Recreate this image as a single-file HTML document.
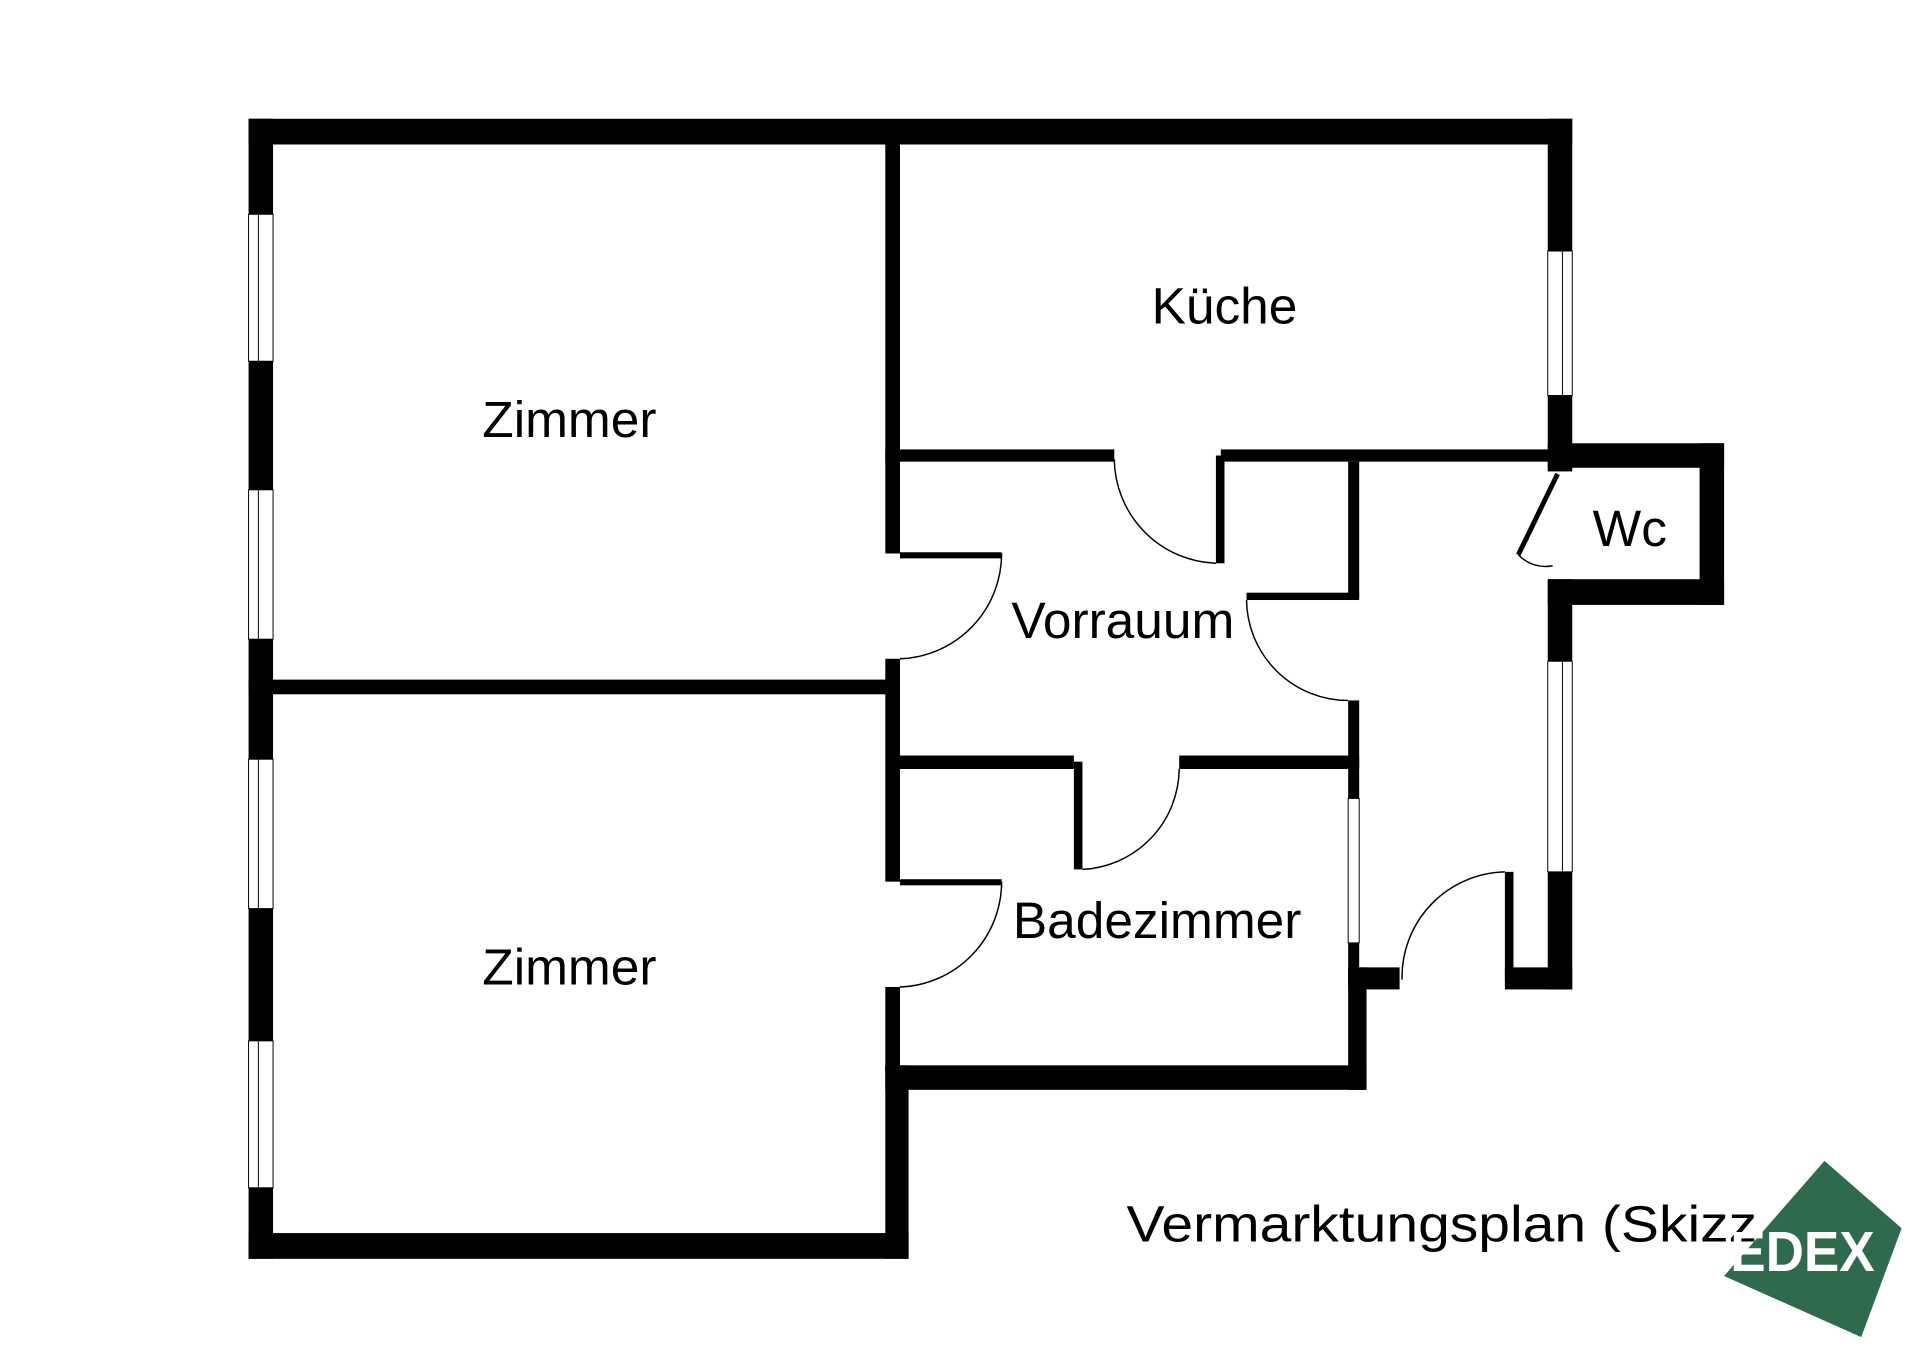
<!DOCTYPE html>
<html><head><meta charset="utf-8"><style>
html,body{margin:0;padding:0;background:#fff;width:1920px;height:1358px;overflow:hidden}
svg{display:block}
text{font-family:"Liberation Sans",sans-serif;fill:#000}
</style></head><body>
<svg width="1920" height="1358" viewBox="0 0 1568 1109" preserveAspectRatio="none">
<rect width="1568" height="1109" fill="#fff"/>
<g fill="#000">
<rect x="203" y="97" width="1081" height="21"/>
<rect x="203" y="97" width="20" height="931"/>
<rect x="203" y="1007" width="539" height="21"/>
<rect x="723" y="870" width="19" height="158"/>
<rect x="723" y="870" width="393" height="20"/>
<rect x="1101" y="790" width="15" height="100"/>
<rect x="1101" y="790" width="42" height="18"/>
<rect x="203" y="555" width="532" height="12"/>
<rect x="723" y="118" width="12" height="334"/>
<rect x="723" y="538" width="12" height="182"/>
<rect x="723" y="806" width="12" height="70"/>
<rect x="723" y="367" width="187" height="10"/>
<rect x="997" y="367" width="273" height="10"/>
<rect x="993" y="372" width="7" height="88"/>
<rect x="1264" y="97" width="20" height="288"/>
<rect x="1264" y="473" width="20" height="335"/>
<rect x="1229" y="712" width="7" height="90"/>
<rect x="1229" y="790" width="55" height="18"/>
<rect x="1101" y="377" width="9" height="111"/>
<rect x="1018" y="484" width="92" height="6"/>
<rect x="1101" y="572" width="9" height="228"/>
<rect x="735" y="617" width="142" height="11"/>
<rect x="963" y="617" width="147" height="11"/>
<rect x="877" y="622" width="7" height="88"/>
<rect x="735" y="451" width="83" height="5"/>
<rect x="735" y="718" width="83" height="5"/>
<rect x="1264" y="362" width="144" height="20"/>
<rect x="1388" y="362" width="20" height="132"/>
<rect x="1264" y="473" width="144" height="21"/>
</g>
<g fill="#fff" stroke="#000" stroke-width="0.8">
<rect x="203" y="175" width="20" height="120"/><line x1="211" y1="175" x2="211" y2="295"/>
<rect x="203" y="400" width="20" height="122"/><line x1="211" y1="400" x2="211" y2="522"/>
<rect x="203" y="620" width="20" height="122"/><line x1="211" y1="620" x2="211" y2="742"/>
<rect x="203" y="850" width="20" height="120"/><line x1="211" y1="850" x2="211" y2="970"/>
<rect x="1264" y="205" width="20" height="118"/><line x1="1276" y1="205" x2="1276" y2="323"/>
<rect x="1264" y="540" width="20" height="172"/><line x1="1276" y1="540" x2="1276" y2="712"/>
<rect x="1101" y="652" width="9" height="118"/>
</g>
<g fill="none" stroke="#000" stroke-width="1.2">
<path d="M818 452 A86 86 0 0 1 735 538"/>
<path d="M818 720 A86 86 0 0 1 735 806"/>
<path d="M910 375 A86 86 0 0 0 993 460"/>
<path d="M1018 490 A83 83 0 0 0 1101 572"/>
<path d="M963 628 A83 83 0 0 1 884 710"/>
<path d="M1229 712 A86 86 0 0 0 1145 800"/>
<path d="M1240 453 A30 30 0 0 0 1268 462"/>
</g>
<line x1="1272" y1="387" x2="1240" y2="453" stroke="#000" stroke-width="4"/>
<g font-size="42" text-anchor="middle">
<text x="1000" y="264">Küche</text>
<text x="465" y="357">Zimmer</text>
<text x="917" y="521">Vorrauum</text>
<text x="1331" y="446">Wc</text>
<text x="945" y="766">Badezimmer</text>
<text x="465" y="804">Zimmer</text>
</g>
<text x="920" y="1014" font-size="42" textLength="515" lengthAdjust="spacingAndGlyphs">Vermarktungsplan (Skizz</text>
<polygon points="1490,948 1553,1003 1520,1092 1408,1042" fill="#2e6a4b"/>
<text x="1472" y="1038" font-size="46" font-weight="bold" text-anchor="middle" style="fill:#fff" textLength="118" lengthAdjust="spacingAndGlyphs">EDEX</text>
</svg>
</body></html>
